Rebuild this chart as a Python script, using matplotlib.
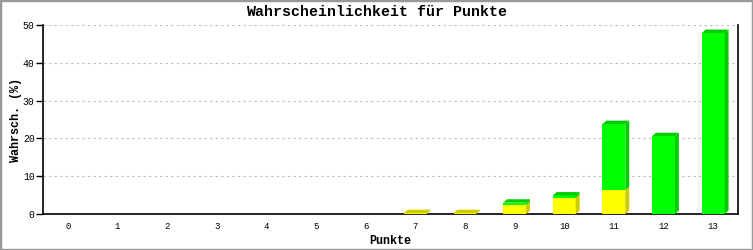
import matplotlib
matplotlib.use("Agg")
import matplotlib.pyplot as plt
from matplotlib.patches import Polygon, Rectangle

categories = [str(i) for i in range(14)]
yellow_vals = [0, 0, 0, 0, 0, 0, 0, 0.25, 0.25, 2.4, 4.3, 6.3, 0, 0]
green_vals = [0, 0, 0, 0, 0, 0, 0, 0, 0, 0.6, 0.6, 17.5, 20.6, 47.9]

YEL, YEL_D = "#ffff00", "#cccc00"
GRN, GRN_D = "#00ff00", "#00cc00"

fig = plt.figure(figsize=(7.53, 2.5), dpi=100)
fig.patches.append(Rectangle((0, 0), 1, 1, transform=fig.transFigure, fill=False,
                             edgecolor="#999999", linewidth=2.5, zorder=10))
ax = fig.add_axes([43 / 753, 36 / 250, 695 / 753, 189 / 250])

mono = "Liberation Mono"
width = 0.46
dx = 0.08
dy = 0.9
x = list(range(len(categories)))

for i in x:
    base = 0
    segs = [(yellow_vals[i], YEL, YEL_D), (green_vals[i], GRN, GRN_D)]
    segs = [s for s in segs if s[0] > 0]
    for k, (v, c, cd) in enumerate(segs):
        x0 = i - width / 2
        x1 = i + width / 2
        ax.add_patch(Rectangle((x0, base), width, v, facecolor=c, edgecolor="none", zorder=3))
        ax.add_patch(Polygon([(x1, base), (x1 + dx, base + dy), (x1 + dx, base + v + dy), (x1, base + v)],
                             closed=True, facecolor=cd, edgecolor="none", zorder=3))
        if k == len(segs) - 1:
            top = base + v
            ax.add_patch(Polygon([(x0, top), (x0 + dx, top + dy), (x1 + dx, top + dy), (x1, top)],
                                 closed=True, facecolor=cd, edgecolor="none", zorder=3))
        base += v

ax.set_xlim(-0.5, 13.5)
ax.set_ylim(0, 50)
ax.set_xticks(x)
ax.set_xticklabels(categories, fontfamily=mono, fontsize=6.5)
ax.set_yticks([0, 10, 20, 30, 40, 50])
ax.set_yticklabels(["0", "10", "20", "30", "40", "50"], fontfamily=mono, fontsize=7)
ax.tick_params(axis="x", length=0, pad=6)
ax.tick_params(axis="y", length=5, width=1, direction="out", pad=1)
ax.yaxis.grid(True, color="#bbbbbb", linestyle=(0, (2, 3)), linewidth=0.8)
ax.set_axisbelow(True)
ax.spines["top"].set_visible(False)
for s in ["left", "bottom", "right"]:
    ax.spines[s].set_linewidth(1.2)
    ax.spines[s].set_color("black")

fig.text(0.5, 1 - 12 / 250, "Wahrscheinlichkeit für Punkte", fontfamily=mono, fontweight="bold",
         fontsize=10.8, ha="center", va="center")
ax.set_xlabel("Punkte", fontfamily=mono, fontweight="bold", fontsize=8.5, labelpad=3)
ax.set_ylabel("Wahrsch. (%)", fontfamily=mono, fontweight="bold", fontsize=8.5, labelpad=1)

fig.savefig("out.png", dpi=100)
